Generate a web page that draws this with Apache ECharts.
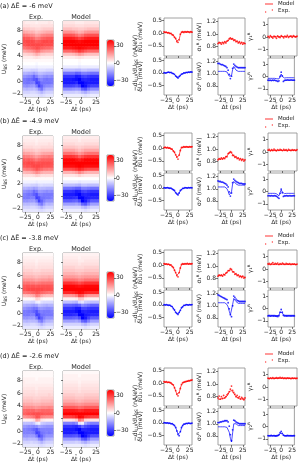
<!DOCTYPE html>
<html><head><meta charset="utf-8">
<script src="https://cdn.jsdelivr.net/npm/echarts@6/dist/echarts.min.js"></script>
<style>html,body{margin:0;padding:0;background:#fff}#c{width:299px;height:473px}</style>
</head><body><div id="c"></div>
<script>
// ---------- axes / ticks ----------
const T = [-30,-27.5,-25,-22.5,-20,-17.5,-15,-12.5,-10,-7.5,-5,-2.5,0,2.5,5,7.5,10,12.5,15,17.5,20,22.5,25,27.5,30];
const DT_CELLS = [-27.5,-22.5,-17.5,-12.5,-7.5,-2.5,2.5,7.5,12.5,17.5,22.5,27.5];
const U_ROWS = [9.25,8.75,8.25,7.75,7.25,6.75,6.25,5.75,5.25,4.75,4.25,3.75,3.25,2.75,2.25,1.75,1.25,0.75,0.25,-0.25,-0.75,-1.25,-1.75,-2.25];
const DT_TICKS = [-25,0,25];
const U_TICKS = [-2,0,2,4,6,8];
const DU_TICKS = [-0.5,0,0.5];
const SIG_TICKS = [0.8,1.0,1.2];
const GAM_TICKS = [-1,0,1];
const CB_TICKS = [-30,0,30];
const ROW_LABELS = ['(a) \u0394\u1EBC = -6 meV','(b) \u0394\u1EBC = -4.9 meV','(c) \u0394\u1EBC = -3.8 meV','(d) \u0394\u1EBC = -2.6 meV'];

// ---------- heatmaps: 12 columns (DT_CELLS) x 24 rows (U_ROWS, top->bottom), nA/eV ----------
const EXP_A = [
 [4,5,9,14,21,27,28,27,22,14,7,3,1,0,-2,-6,-12,-17,-21,-21,-17,-11,-7,-4],
 [3,5,8,13,20,26,29,28,23,15,7,3,1,0,-2,-6,-12,-18,-22,-22,-18,-12,-7,-4],
 [3,5,8,12,19,26,29,29,24,16,8,3,1,0,-2,-6,-13,-19,-23,-22,-17,-11,-7,-4],
 [3,4,7,12,18,25,29,29,25,17,8,3,1,0,-2,-7,-13,-20,-23,-21,-16,-11,-6,-4],
 [3,4,7,11,17,23,28,29,26,19,10,4,1,0,-2,-7,-15,-24,-26,-20,-15,-10,-6,-4],
 [2,4,6,9,14,20,26,29,28,22,13,5,1,-1,-3,-7,-13,-20,-28,-30,-21,-12,-7,-4],
 [3,4,6,10,15,21,27,29,27,21,11,4,1,0,-2,-5,-10,-15,-21,-28,-30,-18,-9,-5],
 [3,5,7,11,18,24,28,29,25,17,8,3,1,0,-2,-5,-10,-15,-19,-22,-25,-22,-12,-6],
 [3,5,8,12,19,25,29,28,24,16,8,3,1,0,-2,-5,-11,-17,-21,-22,-20,-15,-9,-5],
 [3,5,8,13,20,26,29,28,23,15,7,3,1,0,-2,-6,-12,-18,-22,-22,-18,-12,-7,-4],
 [4,5,8,13,20,26,28,28,23,15,7,3,1,0,-2,-6,-12,-17,-21,-22,-18,-12,-7,-4],
 [3,5,8,13,20,26,29,28,22,14,7,3,1,0,-2,-6,-12,-18,-21,-21,-17,-12,-7,-4]];
const MA_FAR = [4,6,10,17,27,36,40,40,36,24,10,3,0,0,-3,-10,-22,-32,-36,-36,-30,-18,-8,-3];
const MOD_A = [MA_FAR, MA_FAR, MA_FAR,
 [4,6,9,16,26,35,40,40,37,26,11,3,0,0,-3,-10,-22,-32,-37,-36,-29,-17,-8,-3],
 [3,5,9,14,23,33,39,40,38,28,13,4,0,0,-3,-11,-25,-36,-38,-34,-27,-16,-7,-3],
 [3,5,8,12,20,30,38,40,39,31,16,5,1,-1,-4,-11,-24,-35,-40,-40,-30,-17,-8,-3],
 [3,5,8,13,22,32,39,40,38,29,14,4,0,0,-3,-9,-20,-30,-35,-40,-40,-25,-11,-4],
 [4,6,9,16,26,35,40,40,37,26,11,3,0,0,-3,-9,-20,-29,-34,-37,-37,-27,-13,-5],
 [4,6,10,17,27,36,40,40,36,24,10,3,0,0,-3,-10,-21,-31,-35,-36,-32,-21,-10,-4],
 MA_FAR, MA_FAR, MA_FAR];

const EB_FAR = [2,3,4,6,9,14,20,25,28,27,21,12,5,1,-2,-6,-12,-18,-21,-21,-17,-11,-7,-4];
const EXP_B = [
 [2,3,5,6,10,15,21,26,28,26,20,11,5,1,-2,-6,-12,-17,-20,-21,-17,-11,-7,-4],
 EB_FAR,
 [2,3,4,6,9,14,20,26,29,27,21,12,5,1,-2,-6,-13,-19,-22,-21,-16,-11,-7,-4],
 [2,3,4,6,9,13,19,25,29,28,22,13,5,1,-2,-7,-13,-19,-22,-20,-16,-10,-6,-4],
 [2,3,4,5,8,12,17,23,28,29,24,15,6,1,-2,-7,-15,-23,-25,-20,-15,-10,-6,-4],
 [2,2,3,5,7,10,15,21,27,29,27,18,8,1,-3,-8,-14,-21,-28,-30,-20,-12,-7,-4],
 [2,3,4,5,8,11,17,23,28,29,25,16,7,1,-2,-6,-11,-16,-21,-28,-30,-18,-9,-5],
 [2,3,4,6,9,13,19,25,28,28,23,13,5,1,-2,-5,-11,-16,-20,-22,-25,-21,-12,-6],
 [2,3,4,6,9,14,20,25,28,27,21,12,5,1,-2,-6,-11,-17,-21,-22,-20,-15,-9,-5],
 EB_FAR,
 [2,3,5,6,9,14,21,25,28,27,20,12,5,1,-2,-6,-12,-17,-21,-21,-17,-12,-7,-4],
 [2,3,4,6,9,15,20,25,27,26,21,12,5,1,-2,-6,-12,-18,-21,-20,-17,-11,-7,-4]];
const MB_FAR = [3,4,6,9,14,22,32,39,40,38,28,12,4,0,-3,-10,-22,-32,-36,-34,-26,-15,-7,-3];
const MOD_B = [MB_FAR, MB_FAR, MB_FAR,
 [3,4,6,9,14,21,31,39,40,38,29,13,4,0,-3,-10,-23,-33,-36,-33,-25,-15,-7,-3],
 [3,4,5,8,12,19,29,37,40,39,31,15,5,0,-3,-11,-25,-36,-38,-32,-24,-14,-7,-3],
 [2,3,5,7,10,16,25,35,40,40,34,19,7,0,-4,-12,-25,-35,-40,-40,-28,-16,-7,-3],
 [3,4,5,8,12,18,28,37,40,39,32,16,5,0,-3,-9,-20,-30,-35,-40,-40,-24,-10,-4],
 [3,4,6,9,14,21,31,39,40,38,29,13,4,0,-3,-9,-20,-29,-34,-36,-36,-26,-12,-5],
 [3,4,6,9,14,22,32,39,40,38,28,12,4,0,-3,-10,-21,-31,-35,-35,-30,-20,-9,-4],
 MB_FAR, MB_FAR, MB_FAR];

const EC_FAR = [1,2,3,4,5,7,9,12,16,22,27,28,22,10,1,-6,-13,-18,-21,-21,-17,-12,-7,-4];
const EXP_C = [
 [1,2,3,4,6,7,10,12,17,22,26,27,22,10,1,-6,-12,-17,-21,-21,-17,-11,-7,-4],
 EC_FAR,
 [1,2,3,4,5,7,9,12,16,22,27,29,23,11,1,-6,-13,-19,-22,-21,-16,-11,-7,-4],
 [1,2,3,4,5,7,9,12,16,21,27,29,24,12,1,-7,-14,-20,-22,-20,-16,-11,-6,-4],
 [1,2,3,4,5,6,8,11,15,21,27,29,25,14,2,-7,-15,-22,-24,-20,-15,-11,-6,-4],
 [1,2,2,3,4,6,8,10,14,20,26,29,27,20,7,-3,-14,-22,-28,-30,-21,-12,-7,-4],
 [1,2,3,4,5,6,8,11,15,21,27,29,26,18,6,-2,-10,-17,-22,-28,-30,-18,-9,-5],
 [1,2,3,4,5,7,9,12,16,22,27,29,24,13,2,-5,-11,-16,-20,-22,-25,-21,-12,-6],
 [1,2,3,4,5,7,9,12,16,22,27,28,23,11,1,-6,-12,-17,-21,-22,-20,-15,-9,-5],
 EC_FAR,
 [1,2,3,4,5,7,9,13,17,22,27,28,21,10,1,-6,-12,-18,-21,-21,-17,-12,-7,-4],
 [1,2,3,4,5,7,9,12,16,22,26,27,22,10,1,-6,-12,-17,-20,-21,-17,-11,-7,-4]];
const MC_FAR = [2,3,4,5,7,9,12,16,22,32,39,40,34,16,2,-10,-24,-32,-36,-34,-26,-15,-7,-3];
const MOD_C = [MC_FAR, MC_FAR, MC_FAR,
 [2,3,4,5,7,9,12,16,22,31,39,40,35,17,2,-11,-25,-33,-36,-33,-25,-15,-7,-3],
 [2,3,4,5,6,8,11,15,21,30,38,40,37,20,3,-12,-26,-36,-38,-32,-24,-14,-7,-3],
 [2,2,3,4,6,8,10,14,19,28,37,40,39,28,9,-6,-24,-36,-40,-40,-28,-16,-7,-3],
 [2,3,3,5,6,8,11,15,20,30,38,40,38,26,8,-4,-18,-29,-35,-40,-40,-24,-10,-4],
 [2,3,4,5,7,9,12,16,22,32,39,40,35,18,3,-8,-20,-29,-34,-36,-36,-26,-12,-5],
 [2,3,4,5,7,9,12,16,22,32,39,40,34,16,2,-9,-22,-31,-35,-35,-30,-20,-9,-4],
 MC_FAR, MC_FAR, MC_FAR];

const ED_FAR = [1,1,2,2,3,4,5,6,8,10,13,18,24,26,18,2,-10,-17,-20,-20,-17,-12,-7,-4];
const EXP_D = [
 [1,1,2,3,3,4,5,6,8,10,14,18,23,25,17,2,-10,-16,-20,-20,-17,-11,-7,-4],
 ED_FAR,
 [1,1,2,2,3,4,5,6,8,10,13,18,24,27,19,2,-10,-18,-21,-20,-16,-11,-7,-4],
 [1,1,2,2,3,4,5,6,8,10,13,18,24,27,20,3,-11,-18,-22,-20,-16,-11,-6,-4],
 [1,1,2,2,3,4,5,6,7,9,12,17,24,28,22,5,-9,-19,-24,-21,-16,-11,-7,-4],
 [1,1,1,2,3,3,4,5,7,9,12,16,22,28,27,14,-4,-18,-27,-30,-21,-12,-7,-4],
 [1,1,2,2,3,4,5,6,7,9,12,17,23,28,26,12,-2,-14,-22,-28,-30,-18,-9,-5],
 [1,1,2,2,3,4,5,6,8,10,13,18,24,27,20,4,-8,-15,-20,-22,-25,-21,-12,-6],
 [1,1,2,2,3,4,5,6,8,10,13,18,24,26,19,3,-9,-16,-20,-21,-20,-15,-9,-5],
 ED_FAR,
 [1,1,2,2,3,4,5,7,8,10,13,19,24,26,18,2,-10,-17,-20,-21,-17,-12,-7,-4],
 [1,1,2,2,3,4,5,6,8,11,13,18,23,26,18,2,-10,-17,-20,-20,-17,-11,-7,-4]];
const MD_FAR = [1,2,2,3,4,5,6,8,10,13,18,26,36,40,30,4,-20,-32,-36,-36,-28,-16,-8,-3];
const MOD_D = [MD_FAR, MD_FAR, MD_FAR,
 [1,2,2,3,4,5,6,8,10,13,18,26,36,40,31,5,-21,-33,-36,-35,-27,-16,-8,-3],
 [1,2,2,3,4,5,6,7,9,12,17,25,35,40,34,8,-18,-34,-38,-34,-26,-15,-7,-3],
 [1,1,2,2,3,4,5,7,9,11,16,23,33,40,39,22,-4,-30,-40,-40,-30,-17,-8,-3],
 [1,2,2,3,4,5,6,7,9,12,17,24,34,40,38,18,-2,-24,-34,-40,-40,-25,-11,-4],
 [1,2,2,3,4,5,6,8,10,13,18,26,36,40,32,6,-14,-28,-34,-37,-37,-27,-13,-5],
 [1,2,2,3,4,5,6,8,10,13,18,26,36,40,31,5,-18,-30,-35,-36,-32,-21,-10,-4],
 MD_FAR, MD_FAR, MD_FAR];

// ---------- line panels (values at T) ----------
const A_DU1_MOD=[0.04,0.04,0.03,0.02,0.01,0.0,-0.02,-0.05,-0.09,-0.15,-0.22,-0.31,-0.38,-0.24,-0.06,0.03,0.05,0.05,0.05,0.05,0.05,0.05,0.05,0.05,0.05];
const A_DU1_EXP=[0.05,0.03,0.04,0.01,0.02,-0.01,-0.01,-0.06,-0.08,-0.16,-0.21,-0.33,-0.36,-0.26,-0.04,0.04,0.06,0.03,0.06,0.04,0.06,0.05,0.03,0.06,0.04];
const A_DU2_MOD=[0.0,0.0,0.0,0.01,0.02,0.02,0.01,-0.01,-0.03,-0.07,-0.12,-0.18,-0.2,-0.16,-0.1,-0.06,-0.03,-0.01,0.0,0.01,0.02,0.02,0.03,0.03,0.03];
const A_DU2_EXP=[0.01,-0.01,0.0,0.02,0.03,0.01,0.02,-0.02,-0.03,-0.06,-0.13,-0.17,-0.21,-0.15,-0.11,-0.05,-0.04,0.0,-0.01,0.02,0.01,0.03,0.02,0.04,0.03];
const A_S1_MOD=[0.86,0.86,0.86,0.86,0.86,0.86,0.87,0.87,0.88,0.9,0.92,0.93,0.93,0.92,0.91,0.9,0.89,0.88,0.87,0.87,0.86,0.86,0.86,0.85,0.85];
const A_S1_EXP=[0.85,0.87,0.86,0.84,0.87,0.85,0.88,0.86,0.89,0.9,0.93,0.94,0.92,0.93,0.9,0.91,0.88,0.89,0.86,0.88,0.85,0.87,0.84,0.86,0.85];
const A_S2_MOD=[1.04,1.04,1.04,1.04,1.04,1.04,1.04,1.04,1.03,1.0,0.96,0.93,0.97,1.07,1.12,1.09,1.06,1.05,1.04,1.04,1.04,1.04,1.04,1.04,1.04];
const A_S2_EXP=[1.17,1.17,1.16,1.15,1.15,1.14,1.13,1.12,1.1,1.06,0.99,0.92,0.96,1.09,1.16,1.14,1.12,1.11,1.1,1.1,1.1,1.1,1.1,1.1,1.1];
const A_G1_MOD=[0.02,0.02,0.02,0.02,0.02,0.02,0.02,0.02,0.02,0.02,0.03,0.03,0.04,0.03,0.03,0.03,0.03,0.03,0.03,0.03,0.03,0.03,0.03,0.03,0.03];
const A_G1_EXP=[0.05,-0.05,0.1,0.0,-0.08,0.06,0.02,-0.1,0.08,0.0,-0.04,0.1,0.03,-0.06,0.07,0.0,0.12,-0.03,0.05,0.08,-0.02,0.1,0.04,0.0,0.06];
const A_G2_MOD=[-0.15,-0.15,-0.15,-0.15,-0.15,-0.15,-0.15,-0.16,-0.18,-0.22,-0.2,0.0,0.2,0.0,-0.15,-0.12,-0.1,-0.1,-0.1,-0.1,-0.1,-0.1,-0.1,-0.1,-0.1];
const A_G2_EXP=[-0.3,-0.32,-0.3,-0.33,-0.3,-0.32,-0.3,-0.33,-0.35,-0.4,-0.35,0.0,0.35,0.05,-0.4,-0.32,-0.3,-0.3,-0.28,-0.3,-0.3,-0.28,-0.3,-0.3,-0.3];

const B_DU1_MOD=[0.03,0.03,0.02,0.02,0.01,0.0,-0.02,-0.05,-0.1,-0.17,-0.25,-0.36,-0.42,-0.28,-0.08,0.02,0.04,0.05,0.05,0.05,0.05,0.05,0.05,0.05,0.05];
const B_DU1_EXP=[0.02,0.04,0.01,0.03,0.0,0.01,-0.03,-0.04,-0.11,-0.16,-0.26,-0.35,-0.43,-0.27,-0.09,0.03,0.03,0.06,0.04,0.06,0.05,0.04,0.06,0.05,0.06];
const B_DU2_MOD=[0.0,0.0,0.0,0.0,0.0,-0.01,-0.02,-0.04,-0.07,-0.12,-0.19,-0.26,-0.28,-0.2,-0.12,-0.06,-0.03,-0.01,0.0,0.0,0.0,0.0,0.0,0.0,0.0];
const B_DU2_EXP=[0.01,-0.01,0.0,0.01,-0.01,-0.02,-0.01,-0.05,-0.08,-0.11,-0.2,-0.25,-0.29,-0.21,-0.11,-0.07,-0.02,-0.02,0.01,0.0,-0.01,0.01,0.0,0.01,0.0];
const B_S1_MOD=[0.84,0.84,0.84,0.84,0.85,0.85,0.86,0.87,0.89,0.92,0.95,0.96,0.94,0.91,0.89,0.88,0.87,0.86,0.85,0.84,0.84,0.83,0.83,0.82,0.82];
const B_S1_EXP=[0.83,0.85,0.84,0.86,0.84,0.86,0.85,0.88,0.88,0.93,0.94,0.96,0.95,0.9,0.9,0.87,0.88,0.85,0.86,0.83,0.85,0.82,0.84,0.81,0.83];
const B_S2_MOD=[1.03,1.03,1.03,1.03,1.03,1.03,1.03,1.02,1.0,0.96,0.9,0.88,0.95,1.08,1.12,1.1,1.08,1.07,1.06,1.06,1.06,1.06,1.06,1.06,1.06];
const B_S2_EXP=[1.13,1.12,1.12,1.11,1.11,1.1,1.09,1.08,1.06,1.03,0.95,0.88,0.93,1.1,1.16,1.14,1.12,1.11,1.1,1.09,1.09,1.09,1.08,1.08,1.08];
const B_G1_MOD=[0.12,0.12,0.12,0.12,0.12,0.12,0.12,0.12,0.12,0.12,0.12,0.12,0.12,0.12,0.12,0.12,0.12,0.12,0.12,0.12,0.12,0.12,0.12,0.12,0.12];
const B_G1_EXP=[0.15,0.2,0.1,0.18,0.12,0.22,0.14,0.1,0.19,0.13,0.2,0.16,0.11,0.21,0.14,0.18,0.1,0.2,0.15,0.12,0.19,0.14,0.17,0.12,0.18];
const B_G2_MOD=[-0.15,-0.15,-0.15,-0.15,-0.15,-0.15,-0.15,-0.16,-0.2,-0.28,-0.35,-0.1,0.15,-0.05,-0.2,-0.17,-0.15,-0.15,-0.15,-0.15,-0.15,-0.15,-0.15,-0.15,-0.15];
const B_G2_EXP=[-0.35,-0.33,-0.36,-0.34,-0.35,-0.36,-0.34,-0.36,-0.4,-0.48,-0.55,-0.15,0.2,-0.1,-0.4,-0.36,-0.35,-0.34,-0.36,-0.35,-0.34,-0.36,-0.35,-0.34,-0.35];

const C_DU1_MOD=[0.05,0.05,0.04,0.04,0.03,0.02,0.0,-0.04,-0.1,-0.19,-0.3,-0.4,-0.45,-0.3,-0.1,0.02,0.05,0.05,0.05,0.05,0.05,0.05,0.05,0.05,0.05];
const C_DU1_EXP=[0.06,0.04,0.05,0.03,0.04,0.01,0.01,-0.05,-0.09,-0.2,-0.29,-0.41,-0.46,-0.29,-0.11,0.03,0.06,0.04,0.06,0.05,0.07,0.04,0.06,0.05,0.06];
const C_DU2_MOD=[0.0,0.0,0.0,0.0,-0.01,-0.02,-0.04,-0.08,-0.14,-0.22,-0.3,-0.36,-0.38,-0.32,-0.22,-0.13,-0.07,-0.03,-0.01,0.0,0.0,0.0,0.0,0.0,0.0];
const C_DU2_EXP=[0.01,-0.01,0.01,-0.01,-0.02,-0.01,-0.05,-0.07,-0.15,-0.21,-0.31,-0.35,-0.39,-0.31,-0.23,-0.12,-0.08,-0.02,-0.02,0.01,0.0,-0.01,0.01,0.0,0.01];
const C_S1_MOD=[0.85,0.85,0.85,0.85,0.85,0.86,0.87,0.88,0.9,0.92,0.94,0.95,0.94,0.92,0.9,0.88,0.87,0.86,0.85,0.84,0.84,0.83,0.83,0.82,0.82];
const C_S1_EXP=[0.84,0.86,0.85,0.86,0.84,0.87,0.86,0.89,0.9,0.93,0.93,0.96,0.95,0.91,0.91,0.87,0.88,0.85,0.86,0.83,0.84,0.82,0.84,0.81,0.82];
const C_S2_MOD=[1.05,1.05,1.05,1.05,1.05,1.05,1.05,1.04,1.02,0.98,0.91,0.85,0.88,1.02,1.12,1.1,1.07,1.05,1.04,1.04,1.04,1.04,1.04,1.04,1.04];
const C_S2_EXP=[1.18,1.17,1.16,1.15,1.14,1.13,1.12,1.11,1.1,1.05,0.95,0.85,0.82,1.0,1.16,1.14,1.11,1.09,1.08,1.07,1.07,1.07,1.07,1.07,1.07];
const C_G1_MOD=[0.35,0.35,0.35,0.35,0.35,0.35,0.35,0.35,0.35,0.35,0.35,0.35,0.35,0.35,0.35,0.35,0.35,0.35,0.35,0.35,0.35,0.35,0.35,0.35,0.35];
const C_G1_EXP=[0.4,0.45,0.36,0.42,0.5,0.38,0.44,0.4,0.47,0.36,0.43,0.39,0.46,0.41,0.37,0.44,0.4,0.38,0.43,0.36,0.41,0.38,0.4,0.35,0.39];
const C_G2_MOD=[-0.55,-0.55,-0.55,-0.55,-0.55,-0.55,-0.55,-0.56,-0.58,-0.6,-0.55,-0.3,-0.15,-0.35,-0.52,-0.55,-0.55,-0.55,-0.55,-0.55,-0.55,-0.55,-0.55,-0.55,-0.55];
const C_G2_EXP=[-0.6,-0.58,-0.62,-0.6,-0.59,-0.61,-0.6,-0.62,-0.63,-0.65,-0.58,-0.3,-0.08,-0.3,-0.55,-0.6,-0.59,-0.61,-0.6,-0.59,-0.6,-0.61,-0.59,-0.6,-0.6];

const D_DU1_MOD=[0.05,0.05,0.04,0.04,0.03,0.02,0.0,-0.03,-0.08,-0.17,-0.3,-0.43,-0.48,-0.38,-0.2,-0.06,0.0,0.03,0.05,0.06,0.07,0.08,0.09,0.1,0.11];
const D_DU1_EXP=[0.06,0.04,0.06,0.03,0.04,0.03,0.01,-0.04,-0.07,-0.18,-0.29,-0.44,-0.5,-0.37,-0.21,-0.05,0.02,0.04,0.06,0.07,0.08,0.1,0.1,0.12,0.13];
const D_DU2_MOD=[0.0,0.0,0.0,-0.01,-0.01,-0.02,-0.03,-0.04,-0.06,-0.1,-0.18,-0.32,-0.46,-0.5,-0.38,-0.2,-0.1,-0.06,-0.04,-0.03,-0.02,-0.02,-0.02,-0.02,-0.02];
const D_DU2_EXP=[0.01,0.0,-0.01,0.0,-0.02,-0.01,-0.04,-0.03,-0.07,-0.11,-0.19,-0.33,-0.47,-0.52,-0.36,-0.19,-0.11,-0.05,-0.05,-0.02,-0.03,-0.01,-0.02,-0.03,-0.01];
const D_S1_MOD=[0.76,0.76,0.76,0.76,0.77,0.77,0.78,0.79,0.81,0.84,0.88,0.9,0.9,0.88,0.85,0.82,0.8,0.79,0.78,0.77,0.77,0.76,0.76,0.76,0.76];
const D_S1_EXP=[0.78,0.81,0.76,0.8,0.77,0.82,0.78,0.8,0.83,0.85,0.88,0.92,0.97,0.9,0.87,0.84,0.8,0.82,0.78,0.8,0.76,0.79,0.77,0.75,0.78];
const D_S2_MOD=[0.95,0.95,0.95,0.95,0.95,0.95,0.95,0.95,0.94,0.92,0.86,0.76,0.7,0.85,1.0,1.02,1.0,0.98,0.97,0.97,0.97,0.97,0.97,0.97,0.97];
const D_S2_EXP=[1.02,1.02,1.03,1.03,1.04,1.04,1.05,1.05,1.05,1.03,0.96,0.82,0.72,0.9,1.06,1.05,1.03,1.02,1.01,1.0,1.0,1.0,1.0,1.0,1.0];
const D_G1_MOD=[0.68,0.68,0.68,0.68,0.68,0.68,0.68,0.68,0.68,0.68,0.68,0.68,0.68,0.68,0.68,0.68,0.68,0.68,0.68,0.68,0.68,0.68,0.68,0.68,0.68];
const D_G1_EXP=[0.7,0.66,0.72,0.68,0.74,0.67,0.7,0.73,0.69,0.72,0.76,0.7,0.74,0.68,0.71,0.67,0.72,0.69,0.7,0.66,0.71,0.68,0.7,0.67,0.69];
const D_G2_MOD=[-0.75,-0.75,-0.75,-0.75,-0.75,-0.75,-0.75,-0.75,-0.76,-0.78,-0.72,-0.55,-0.45,-0.6,-0.72,-0.75,-0.75,-0.75,-0.75,-0.75,-0.75,-0.75,-0.75,-0.75,-0.75];
const D_G2_EXP=[-0.74,-0.76,-0.75,-0.73,-0.76,-0.74,-0.75,-0.77,-0.75,-0.73,-0.66,-0.5,-0.4,-0.55,-0.7,-0.74,-0.76,-0.75,-0.73,-0.76,-0.74,-0.75,-0.76,-0.74,-0.75];

const ROWS = [
 {exp:EXP_A, mod:MOD_A, lines:[[A_DU1_MOD,A_DU1_EXP],[A_DU2_MOD,A_DU2_EXP],[A_S1_MOD,A_S1_EXP],[A_S2_MOD,A_S2_EXP],[A_G1_MOD,A_G1_EXP],[A_G2_MOD,A_G2_EXP]]},
 {exp:EXP_B, mod:MOD_B, lines:[[B_DU1_MOD,B_DU1_EXP],[B_DU2_MOD,B_DU2_EXP],[B_S1_MOD,B_S1_EXP],[B_S2_MOD,B_S2_EXP],[B_G1_MOD,B_G1_EXP],[B_G2_MOD,B_G2_EXP]]},
 {exp:EXP_C, mod:MOD_C, lines:[[C_DU1_MOD,C_DU1_EXP],[C_DU2_MOD,C_DU2_EXP],[C_S1_MOD,C_S1_EXP],[C_S2_MOD,C_S2_EXP],[C_G1_MOD,C_G1_EXP],[C_G2_MOD,C_G2_EXP]]},
 {exp:EXP_D, mod:MOD_D, lines:[[D_DU1_MOD,D_DU1_EXP],[D_DU2_MOD,D_DU2_EXP],[D_S1_MOD,D_S1_EXP],[D_S2_MOD,D_S2_EXP],[D_G1_MOD,D_G1_EXP],[D_G2_MOD,D_G2_EXP]]}
];

// ---------- layout / style ----------
const FONT = 'DejaVu Sans';
const TXT = '#222', FRAME = '#8a8a8a';
const RED = '#ff0000', BLUE = '#0000ff';
const ROW_TOP = [21, 136, 253, 371];
const HM_H = 76;
const RICH = {s:{fontSize:4.5, padding:[3,0,0,0], fontFamily:FONT, color:TXT}};
const HALF_DT = (DT_CELLS[1]-DT_CELLS[0])/2, HALF_U = (U_ROWS[0]-U_ROWS[1])/2;
const DOTS = 'path://M0.2,3.2a0.8,0.8 0 1,0 1.6,0a0.8,0.8 0 1,0 -1.6,0zM8.2,0.8a0.8,0.8 0 1,0 1.6,0a0.8,0.8 0 1,0 -1.6,0z';
const THIN_LINE = 'path://M0,0M8,4M0,1.6L8,1.6L8,2.4L0,2.4Z';

function fmt(d){ return v => { const s = Math.abs(v).toFixed(d); return (v < 0 && Math.abs(v) > 1e-9) ? '\u2212' + s : s; }; }

const option = {animation:false, textStyle:{fontFamily:FONT}, grid:[], xAxis:[], yAxis:[], series:[], visualMap:[], legend:[], graphic:[]};

function addGrid(l,t,w,h,show){ option.grid.push({left:l,top:t,width:w,height:h,show:show,borderColor:FRAME,borderWidth:0.8,backgroundColor:'rgba(0,0,0,0)'}); return option.grid.length-1; }
function axis(gi,min,max,ticks,dec,showLabel,name,gap,extra){
  return Object.assign({gridIndex:gi,type:'value',min:min,max:max,
    axisLine:{show:false,onZero:false}, splitLine:{show:false},
    axisTick:{show:true,length:2,customValues:ticks,lineStyle:{color:TXT,width:0.6}},
    axisLabel:{show:showLabel,customValues:ticks,fontSize:6,margin:2,color:TXT,fontFamily:FONT,formatter:fmt(dec)},
    name:name||'', nameLocation:'middle', nameGap:gap||0,
    nameTextStyle:{fontSize:6,color:TXT,fontFamily:FONT,rich:RICH}}, extra||{});
}
function renderCell(params, api){
  const x = api.value(0), y = api.value(1);
  const a = api.coord([x-HALF_DT, y+HALF_U]), b = api.coord([x+HALF_DT, y-HALF_U]);
  return {type:'rect', shape:{x:a[0], y:a[1], width:b[0]-a[0]+0.5, height:b[1]-a[1]+0.5}, style:{fill:api.visual('color')}};
}
function cellsFrom(cols){ const out=[]; cols.forEach((col,i)=>col.forEach((v,j)=>out.push([DT_CELLS[i],U_ROWS[j],v]))); return out; }

const X_NAME = '\u0394t\u0303 (ps)';
const COLS = [
  {left:164, w:28, min:-0.9, max:0.6, ticks:DU_TICKS, dec:1, names:['\u03B4\u0168\u2081 (meV)','\u03B4\u0168\u2082 (meV)'], gap:21},
  {left:218, w:27, min:0.65, max:1.26, ticks:SIG_TICKS, dec:1, names:['\u03C3\u2081\u1D3F (meV)','\u03C3\u2082\u1D3F (meV)'], gap:15},
  {left:268, w:29, min:-1.5, max:1.5, ticks:GAM_TICKS, dec:0, names:['\u03B3\u2081\u1D3F','\u03B3\u2082\u1D3F'], gap:7}
];

ROWS.forEach((row, r) => {
  const rt = ROW_TOP[r];
  option.graphic.push({type:'text', x:0, y:rt-15, style:{text:ROW_LABELS[r], fontSize:6.5, fill:TXT, fontFamily:FONT, verticalAlign:'middle'}});
  option.graphic.push({type:'text', x:36, y:rt-4, style:{text:'Exp.', fontSize:6.5, fill:TXT, fontFamily:FONT, align:'center', verticalAlign:'middle'}});
  option.graphic.push({type:'text', x:81, y:rt-4, style:{text:'Model', fontSize:6.5, fill:TXT, fontFamily:FONT, align:'center', verticalAlign:'middle'}});
  const hs = [];
  [[19,34,row.exp,true],[63,36,row.mod,false]].forEach(([l,w,cols,lab]) => {
    const gi = addGrid(l, rt, w, HM_H, true);
    option.xAxis.push(axis(gi,-30,30,DT_TICKS,0,true,X_NAME,9));
    option.yAxis.push(axis(gi,-2.5,9.5,U_TICKS,0,lab, lab ? 'U{s|BS} (meV)' : '', 11));
    option.series.push({type:'custom', xAxisIndex:gi, yAxisIndex:gi, data:cellsFrom(cols), renderItem:renderCell, clip:true, silent:true});
    hs.push(option.series.length-1);
  });
  option.visualMap.push({type:'continuous', min:-40, max:40, dimension:2, seriesIndex:hs, inRange:{color:[BLUE,'#ffffff',RED]},
    calculable:false, hoverLink:false, left:107, top:rt+19, itemWidth:7, itemHeight:46, padding:0, text:null, orient:'vertical'});
  const cg = addGrid(107, rt+19, 7, 46, true);
  option.xAxis.push({gridIndex:cg, type:'value', min:0, max:1, show:false, axisLine:{onZero:false}});
  option.yAxis.push(axis(cg,-40,40,CB_TICKS,0,true,'\u2212dI{s|LU}/dU{s|BS} (nA/eV)',9,{position:'right'}));
  COLS.forEach((c, ci) => {
    [0,1].forEach(k => {
      const top = k === 0 ? rt-3 : rt+37, h = k === 0 ? 38 : 37;
      const gi = addGrid(c.left, top, c.w, h, true);
      option.xAxis.push(axis(gi,-30,30,DT_TICKS,0,k===1,k===1?X_NAME:'',9));
      option.yAxis.push(axis(gi,c.min,c.max,c.ticks,c.dec,true,c.names[k],c.gap));
      const pair = row.lines[ci*2+k];
      const col = k === 0 ? RED : BLUE;
      option.series.push({type:'line', name:k===0?'Model':'Model ', xAxisIndex:gi, yAxisIndex:gi, data:T.map((t,i)=>[t,pair[0][i]]),
        symbol:'none', lineStyle:{color:col,width:1,opacity:0.7}, itemStyle:{color:col}, silent:true, z:2});
      option.series.push({type:'scatter', name:k===0?'Exp.':'Exp. ', xAxisIndex:gi, yAxisIndex:gi, data:T.map((t,i)=>[t,pair[1][i]]),
        symbol:'circle', symbolSize:1.8, itemStyle:{color:col}, silent:true, z:3});
    });
  });
  option.legend.push({data:[{name:'Model', icon:THIN_LINE},{name:'Exp.', icon:DOTS}], orient:'vertical', left:265, top:rt-20, itemWidth:8, itemHeight:4, itemGap:1, padding:0,
    selectedMode:false, textStyle:{fontSize:5.5, color:TXT, fontFamily:FONT}});
});

const chart = echarts.init(document.getElementById('c'), null, {renderer:'canvas'});
chart.setOption(option);
</script></body></html>
